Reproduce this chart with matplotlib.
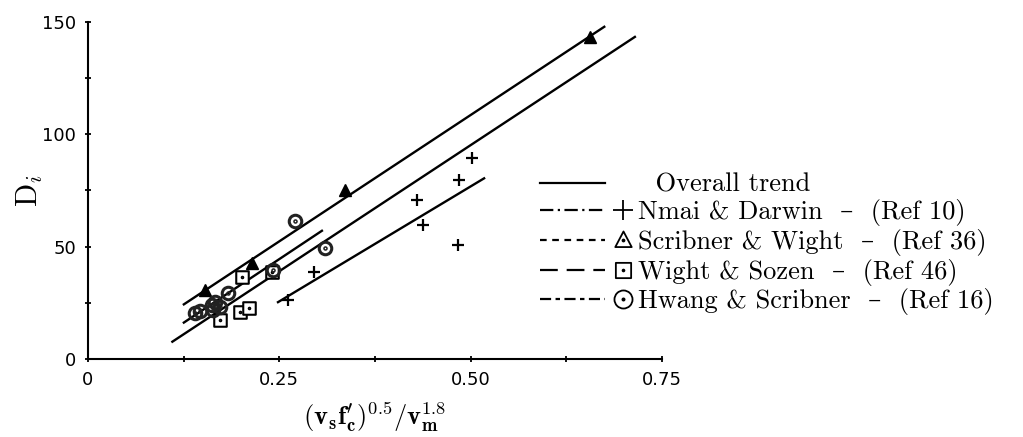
"""
Drift index D_i against (v_s f'_c)^0.5 / v_m^1.8, with fitted trend lines.
"""

import matplotlib
matplotlib.use("Agg")
import matplotlib.pyplot as plt
from matplotlib.lines import Line2D
from matplotlib.legend_handler import HandlerBase
from matplotlib.path import Path

plt.rcParams["mathtext.fontset"] = "cm"

# Data
nmai_x = [0.262, 0.295, 0.430, 0.438, 0.485, 0.502, 0.483]
nmai_y = [26.2, 38.5, 70.7, 59.6, 79.6, 89.5, 50.7]

scribner_x = [0.153, 0.214, 0.336, 0.656]
scribner_y = [30.7, 42.5, 75.1, 143.0]

wight_x = [0.201, 0.199, 0.210, 0.173, 0.241]
wight_y = [36.3, 21.0, 22.5, 17.3, 38.7]

hwang_x = [0.271, 0.310, 0.183, 0.242, 0.140, 0.146, 0.162, 0.166, 0.173, 0.164]
hwang_y = [61.5, 49.5, 29.5, 39.6, 20.6, 21.3, 24.0, 25.5, 23.3, 21.8]

# fitted trend lines (end points)
trend_lines = [
    ([0.124, 0.676], [24.0, 148.0]),
    ([0.124, 0.307], [15.9, 57.3]),
    ([0.109, 0.716], [7.4, 143.5]),
    ([0.247, 0.519], [25.0, 80.6]),
]

legend_labels = [
    "  Overall trend",
    "Nmai & Darwin  \u2013  (Ref 10)",
    "Scribner & Wight  \u2013  (Ref 36)",
    "Wight & Sozen  \u2013  (Ref 46)",
    "Hwang & Scribner  \u2013  (Ref 16)",
]


def dotted(base):
    """Marker path with a small dot in the middle."""
    return Path.make_compound_path(base, Path.circle((0, 0), 0.12))


circle_dot = dotted(Path.unit_circle())
square_dot = dotted(Path([(-1, -1), (1, -1), (1, 1), (-1, 1), (-1, -1)],
                         [1, 2, 2, 2, 79]))
tri_dot = dotted(Path([(0, 1.1), (-1, -0.8), (1, -0.8), (0, 1.1)], [1, 2, 2, 79]))


class EndMarkerHandler(HandlerBase):
    """Legend handle: line sample, then the marker just after its end."""

    def create_artists(self, legend, orig_handle, xdescent, ydescent,
                       width, height, fontsize, trans):
        x0 = -xdescent
        y = (height - ydescent) / 2
        line = Line2D([x0, x0 + 0.72 * width], [y, y])
        self.update_prop(line, orig_handle, legend)
        line.set_marker("")
        mark = Line2D([x0 + 0.92 * width], [y])
        self.update_prop(mark, orig_handle, legend)
        mark.set_linestyle("none")
        line.set_transform(trans)
        mark.set_transform(trans)
        return [line, mark]


fig = plt.figure(figsize=(10.23, 4.37), dpi=100)
ax = fig.add_axes([0.086, 0.1785, 0.561, 0.772])

for lx, ly in trend_lines:
    ax.plot(lx, ly, color="black", lw=1.7, solid_capstyle="butt")

ax.plot(nmai_x, nmai_y, ls="none", marker="+", ms=9, mew=1.6, color="black")
ax.plot(scribner_x, scribner_y, ls="none", marker="^", ms=8, color="black")
ax.plot(wight_x, wight_y, ls="none", marker=square_dot, ms=9, mew=1.5,
        mfc="white", mec="black")
ax.plot(hwang_x, hwang_y, ls="none", marker=circle_dot, ms=9, mew=2.2,
        mfc="none", mec="#222222")

ax.set_xlim(0, 0.75)
ax.set_ylim(0, 150)
ax.spines["top"].set_visible(False)
ax.spines["right"].set_visible(False)
ax.spines["left"].set_linewidth(1.5)
ax.spines["bottom"].set_linewidth(1.5)

ax.set_xticks([0, 0.125, 0.25, 0.375, 0.5, 0.625, 0.75])
ax.set_xticklabels(["0", "", "0.25", "", "0.50", "", "0.75"])
ax.set_yticks([0, 25, 50, 75, 100, 125, 150])
ax.set_yticklabels(["0", "", "50", "", "100", "", "150"])
ax.tick_params(direction="inout", length=5, width=1.3, labelsize=13, pad=6)

ax.set_ylabel(r"$\mathrm{D}_i$", fontsize=22, labelpad=-2)
ax.set_xlabel(r"$(\mathbf{v_s f_c^{\prime}})^{0.5}/\mathbf{v_m^{1.8}}$",
              fontsize=19, labelpad=8)

handles = [
    Line2D([], [], color="black", lw=1.6),
    Line2D([], [], color="black", lw=1.6, ls=(0, (6, 2, 1, 2)),
           marker="+", ms=14, mew=1.3),
    Line2D([], [], color="black", lw=1.6, ls=(0, (3, 2.5)),
           marker=tri_dot, ms=13, mew=1.3, mfc="none"),
    Line2D([], [], color="black", lw=1.6, ls=(0, (8, 4)),
           marker=square_dot, ms=11, mew=1.3, mfc="none"),
    Line2D([], [], color="black", lw=1.6, ls=(0, (5, 2, 2, 2)),
           marker=circle_dot, ms=13, mew=1.3, mfc="none"),
]
leg = fig.legend(handles, legend_labels, loc="upper left",
                 bbox_to_anchor=(0.518, 0.628), frameon=False,
                 prop={"family": ["cmr10", "DejaVu Serif"], "size": 19},
                 handlelength=3.4, handletextpad=0.3, labelspacing=0.1,
                 borderaxespad=0,
                 handler_map={Line2D: EndMarkerHandler()})

fig.savefig("out.png", dpi=100)
